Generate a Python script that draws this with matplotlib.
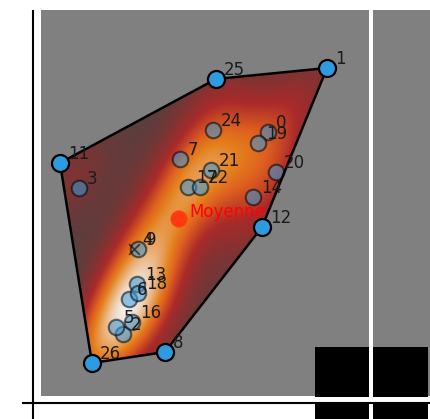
import numpy as np
import matplotlib
matplotlib.use("Agg")
import matplotlib.pyplot as plt
from matplotlib.patches import Polygon, Rectangle

# ---- data ----
labels = ["0", "1", "2", "3", "5", "6", "7", "8", "9", "11", "12", "13", "14",
          "16", "17", "18", "19", "20", "21", "22", "24", "25", "26"]
xs = [23.5, 29.4, 9.0, 4.6, 8.3, 9.6, 14.7, 13.2, 10.5, 2.7, 22.9, 10.4, 22.0,
      9.9, 15.5, 10.5, 22.5, 24.3, 17.8, 16.7, 18.0, 18.3, 5.9]
ys = [27.1, 33.5, 6.9, 21.5, 7.6, 10.4, 24.4, 5.1, 15.4, 24.0, 17.6, 11.9, 20.6,
      8.1, 21.6, 11.0, 26.0, 23.1, 23.3, 21.6, 27.3, 32.4, 4.0]
cross_label = "4"
cross_x, cross_y = 10.1, 15.4
mean_label = "Moyenne"
mean_x, mean_y = 14.6, 18.4

x = np.array(xs + [cross_x])
y = np.array(ys + [cross_y])


def convex_hull(px, py):
    p = sorted(zip(px, py))
    def cross(o, a, b):
        return (a[0]-o[0])*(b[1]-o[1]) - (a[1]-o[1])*(b[0]-o[0])
    lower, upper = [], []
    for q in p:
        while len(lower) >= 2 and cross(lower[-2], lower[-1], q) <= 0:
            lower.pop()
        lower.append(q)
    for q in reversed(p):
        while len(upper) >= 2 and cross(upper[-2], upper[-1], q) <= 0:
            upper.pop()
        upper.append(q)
    return np.array(lower[:-1] + upper[:-1])


hull = convex_hull(x, y)

fig = plt.figure(figsize=(4.31, 4.19), dpi=100)
ax = fig.add_axes([0, 0, 1, 1])
ax.set_xlim(-3.3, 39.8)
ax.set_ylim(-1.6, 40.3)
ax.axis("off")

# gray panel
ax.add_patch(Rectangle((0.8, 0.7), 39.0, 38.6, facecolor="#808080",
                       edgecolor="none", zorder=0))

# KDE heat map clipped to hull
pts = np.column_stack([x, y])
n = len(pts)
cov = np.cov(pts.T) * n ** (-1.0 / 3.0) * 0.85
inv = np.linalg.inv(cov)
x0, x1 = hull[:, 0].min(), hull[:, 0].max()
y0, y1 = hull[:, 1].min(), hull[:, 1].max()
gx, gy = np.meshgrid(np.linspace(x0, x1, 300), np.linspace(y0, y1, 300))
g = np.stack([gx.ravel(), gy.ravel()], axis=1)
dens = np.zeros(len(g))
for p in pts:
    d = g - p
    dens += np.exp(-0.5 * np.einsum("ij,jk,ik->i", d, inv, d))
dens = dens.reshape(gx.shape)
dens /= dens.max()
shade = dens ** 0.8
rgba = plt.get_cmap("gist_heat")(shade)
rgba[..., 3] = 0.45 + 0.45 * shade
im = ax.imshow(rgba, extent=(x0, x1, y0, y1), origin="lower",
               aspect="auto", zorder=1, interpolation="bilinear")
clip = Polygon(hull, closed=True, transform=ax.transData)
im.set_clip_path(clip)

# all points (semi-transparent)
ax.scatter(x[:-1], y[:-1], s=125, c="#3a9ad9", edgecolors="black",
           linewidths=1.5, alpha=0.55, zorder=2)
ax.scatter([cross_x], [cross_y], s=60, marker="x", c="black",
           linewidths=1.3, alpha=0.6, zorder=2)

# hull outline and vertices
hp = Polygon(hull, closed=True, fill=False, edgecolor="black", lw=1.8, zorder=3)
ax.add_patch(hp)
ax.scatter(hull[:, 0], hull[:, 1], s=150, c="#2E9BE0", edgecolors="black",
           linewidths=1.6, zorder=4)

# labels
for lab, xi, yi in zip(labels + [cross_label], x, y):
    ax.annotate(lab, (xi, yi), xytext=(8, 4), textcoords="offset pixels",
                fontsize=12, color="#1a1a1a", zorder=5)

# mean
ax.scatter([mean_x], [mean_y], s=150, c="#ff3a10", edgecolors="none", zorder=6)
ax.annotate(mean_label, (mean_x, mean_y), xytext=(10, 2),
            textcoords="offset pixels", fontsize=12, color="red", zorder=6)

# black blocks bottom right
ax.add_patch(Rectangle((28.2, -1.6), 11.3, 7.2, facecolor="black",
                       edgecolor="none", zorder=7))

# white lines
ax.plot([33.8, 33.8], [-1.6, 39.3], color="white", lw=2.9, zorder=8,
        solid_capstyle="butt")
ax.plot([0.8, 39.8], [0.4, 0.4], color="white", lw=3.6, zorder=8,
        solid_capstyle="butt")

# black axis lines
ax.plot([-1.1, 39.8], [0, 0], color="black", lw=1.5, zorder=9,
        solid_capstyle="butt")
ax.plot([0, 0], [-1.6, 39.3], color="black", lw=1.5, zorder=9,
        solid_capstyle="butt")

fig.savefig("out.png", dpi=100)
